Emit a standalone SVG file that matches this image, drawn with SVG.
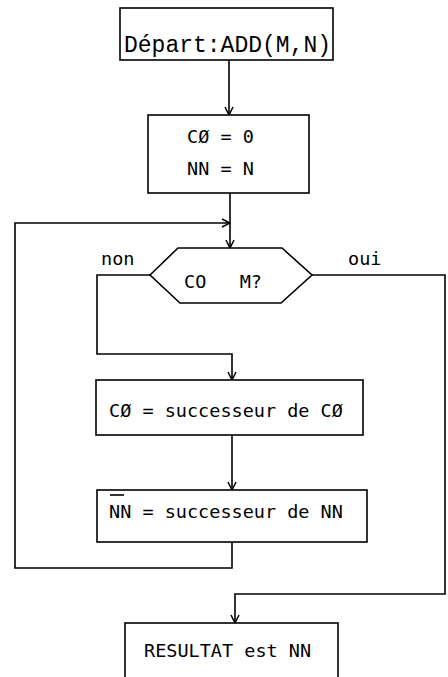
<svg xmlns="http://www.w3.org/2000/svg" width="448" height="677" viewBox="0 0 448 677">
<defs>
<marker id="arr" viewBox="0 0 10 10" refX="9" refY="5" markerWidth="10" markerHeight="10" markerUnits="userSpaceOnUse" orient="auto">
<path d="M1,1 L9,5 L1,9" fill="none" stroke="#000" stroke-width="1.5"/>
</marker>
<style>
.box{fill:#fff;stroke:#000;stroke-width:1.6}
.ln{fill:none;stroke:#000;stroke-width:1.6}
.t{font-family:"DejaVu Sans Mono",monospace;font-size:18.5px;fill:#000;white-space:pre}
.tm{font-family:"Liberation Mono","Courier New",monospace;font-size:23px;fill:#000}
</style>
</defs>
<rect width="448" height="677" fill="#fff"/>
<g id="connectors">
<path class="ln" d="M229,60 V115" marker-end="url(#arr)"/>
<path class="ln" d="M230,193 V248" marker-end="url(#arr)"/>
<path class="ln" d="M232,542 V568 H15 V223 H230" marker-end="url(#arr)"/>
<path class="ln" d="M150,275 H97 V354 H232 V380" marker-end="url(#arr)"/>
<path class="ln" d="M232,435 V490" marker-end="url(#arr)"/>
<path class="ln" d="M312,275 H445 V594 H235 V623" marker-end="url(#arr)"/>
</g>
<g id="start">
<rect class="box" x="120" y="8" width="213" height="52"/>
<text class="tm" x="124" y="52">Départ:ADD(M,N)</text>
</g>
<g id="init">
<rect class="box" x="148" y="115" width="161" height="78"/>
<text class="t" x="187" y="143">CØ = 0</text>
<text class="t" x="187" y="175">NN = N</text>
</g>
<g id="test">
<polygon class="box" points="150,275 178,248 282,248 312,275 281,303 180,303"/>
<text class="t" x="184" y="288">CO   M?</text>
<text class="t" x="101" y="265">non</text>
<text class="t" x="348" y="265">oui</text>
</g>
<g id="incC">
<rect class="box" x="96" y="380" width="267" height="55"/>
<text class="t" x="109" y="417">CØ = successeur de CØ</text>
</g>
<g id="incN">
<rect class="box" x="97" y="490" width="270" height="52"/>
<text class="t" x="109" y="518">NN = successeur de NN</text>
<line class="ln" x1="110" y1="495" x2="124" y2="495" stroke-width="1.2"/>
</g>
<g id="result">
<rect class="box" x="125" y="623" width="213" height="70"/>
<text class="t" x="144" y="657">RESULTAT est NN</text>
</g>
</svg>
